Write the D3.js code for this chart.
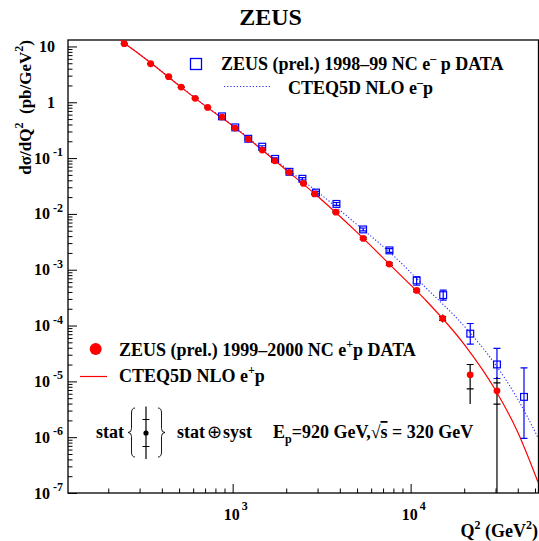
<!DOCTYPE html>
<html>
<head>
<meta charset="utf-8">
<script src="https://cdn.jsdelivr.net/npm/d3@7"></script>
<style>
  body { margin: 0; background: #fff; }
  text { font-family: "Liberation Serif", "Times New Roman", serif; font-weight: bold; fill: #000; }
</style>
</head>
<body>
<div id="chart"></div>
<script>
// ZEUS 1999-2000 e+p NC data (red points)
const epQ2 = [246, 346, 437, 514, 616, 724, 871, 1034, 1224, 1466, 1728, 2080, 2500, 2890, 3802, 5418, 7590, 10810, 15140, 21600, 30560];
const epXsec = [11.2, 4.90, 2.87, 1.87, 1.175, 0.810, 0.543, 0.345, 0.219, 0.139, 0.0895, 0.0555, 0.0352, 0.0228, 0.01076, 3.64e-3, 1.26e-3, 4.25e-4, 1.34e-4, 1.31e-5, 6.76e-6];
// relative errors
const epStatUp = [0.01, 0.01, 0.01, 0.01, 0.01, 0.01, 0.01, 0.012, 0.012, 0.015, 0.015, 0.02, 0.02, 0.025, 0.03, 0.04, 0.05, 0.05, 0.08, 0.53, 0.39];
const epStatDn = [0.01, 0.01, 0.01, 0.01, 0.01, 0.01, 0.01, 0.012, 0.012, 0.015, 0.015, 0.02, 0.02, 0.025, 0.03, 0.04, 0.05, 0.05, 0.08, 0.44, 0.42];
const epTotUp = [0.03, 0.03, 0.03, 0.03, 0.03, 0.03, 0.03, 0.03, 0.03, 0.035, 0.035, 0.04, 0.04, 0.04, 0.045, 0.05, 0.06, 0.08, 0.18, 0.55, 0.78];
const epTotDn = [0.03, 0.03, 0.03, 0.03, 0.03, 0.03, 0.03, 0.03, 0.03, 0.035, 0.035, 0.04, 0.04, 0.04, 0.045, 0.05, 0.06, 0.08, 0.15, 0.70, 1.0];

// ZEUS 1998-99 e-p NC data (blue squares)
const emQ2 = [871, 1034, 1224, 1466, 1733, 2085, 2466, 2940, 3830, 5408, 7605, 10810, 15240, 21630, 30560, 43350];
const emXsec = [0.559, 0.355, 0.222, 0.160, 0.0968, 0.0568, 0.0426, 0.0241, 0.0151, 5.27e-3, 2.22e-3, 6.43e-4, 3.51e-4, 7.16e-5, 2.01e-5, 5.27e-6];
const emErrUp = [0.03, 0.03, 0.03, 0.04, 0.04, 0.04, 0.05, 0.05, 0.06, 0.06, 0.08, 0.16, 0.23, 0.52, 0.94, 2.32];
const emErrDn = [0.03, 0.03, 0.03, 0.04, 0.04, 0.04, 0.05, 0.05, 0.06, 0.06, 0.08, 0.18, 0.19, 0.35, 0.44, 0.82];

// CTEQ5D NLO predictions
const theoryQ2 = [200, 250, 350, 500, 700, 1000, 1500, 2000, 3000, 5000, 8000, 12000, 20000, 30000, 40000, 52000];
const theoryEp = [19.0, 11.1, 4.94, 1.99, 0.862, 0.378, 0.131, 0.0612, 0.0207, 4.66e-3, 1.07e-3, 2.97e-4, 4.6e-5, 6.95e-6, 1.23e-6, 1.56e-7];
const theoryEm = [19.2, 11.2, 4.98, 2.017, 0.876, 0.384, 0.136, 0.0654, 0.0248, 6.43e-3, 1.79e-3, 4.98e-4, 9.75e-5, 1.99e-5, 4.80e-6, 9.75e-7];

const W = 539, H = 541;
const F = { left: 68, top: 40, right: 538.5, bottom: 493 };

const x = d3.scaleLog().domain([118.8, 52300]).range([F.left, F.right]);
const y = d3.scaleLog().domain([1e-7, 13.05]).range([F.bottom, F.top]);

const svg = d3.select("#chart").append("svg")
  .attr("xmlns", "http://www.w3.org/2000/svg")
  .attr("width", W)
  .attr("height", H);

svg.append("clipPath").attr("id", "frame")
  .append("rect")
  .attr("x", F.left).attr("y", F.top)
  .attr("width", F.right - F.left).attr("height", F.bottom - F.top);

// ticks
const yMajor = [], yMinor = [];
for (let e = -7; e <= 1; e++) {
  for (let k = 1; k <= 9; k++) {
    const v = k * Math.pow(10, e);
    if (v <= 13.05) (k === 1 ? yMajor : yMinor).push(v);
  }
}
const xMajor = [], xMinor = [];
for (let e = 2; e <= 4; e++) {
  for (let k = 1; k <= 9; k++) {
    const v = k * Math.pow(10, e);
    if (v >= 118.8 && v <= 52300) (k === 1 ? xMajor : xMinor).push(v);
  }
}

function tickAxis(axis, tr) {
  const g = svg.append("g").attr("transform", tr).call(axis);
  g.select(".domain").remove();
  g.selectAll("line").attr("stroke", "#000").attr("stroke-width", 1);
  return g;
}
tickAxis(d3.axisRight(y).tickValues(yMinor).tickSize(4.5).tickFormat(""), `translate(${F.left},0)`);
tickAxis(d3.axisRight(y).tickValues(yMajor).tickSize(9).tickFormat(""), `translate(${F.left},0)`);
tickAxis(d3.axisTop(x).tickValues(xMinor).tickSize(4.5).tickFormat(""), `translate(0,${F.bottom})`);
tickAxis(d3.axisTop(x).tickValues(xMajor).tickSize(9).tickFormat(""), `translate(0,${F.bottom})`);

svg.append("rect")
  .attr("x", F.left).attr("y", F.top)
  .attr("width", F.right - F.left).attr("height", F.bottom - F.top)
  .attr("fill", "none").attr("stroke", "#000").attr("stroke-width", 1.3);

// y tick labels
yMajor.forEach(v => {
  const e = Math.round(Math.log10(v));
  const ty = y(v);
  if (e >= 0) {
    svg.append("text").attr("x", 55).attr("y", ty + 5.5)
      .attr("text-anchor", "end").attr("font-size", 16)
      .text(e === 1 ? "10" : "1");
  } else {
    svg.append("text").attr("x", 50).attr("y", ty + 5.5)
      .attr("text-anchor", "end").attr("font-size", 16).text("10");
    svg.append("text").attr("x", 53).attr("y", ty - 2)
      .attr("font-size", 12).text("-" + (-e));
  }
});

// x tick labels
xMajor.forEach(v => {
  const e = Math.round(Math.log10(v));
  svg.append("text").attr("x", x(v) - 1).attr("y", 520)
    .attr("text-anchor", "middle").attr("font-size", 16).text("10");
  svg.append("text").attr("x", x(v) + 9).attr("y", 510)
    .attr("font-size", 12).text(e);
});

// titles
svg.append("text").attr("x", 270.5).attr("y", 25)
  .attr("text-anchor", "middle").attr("font-size", 24).text("ZEUS");

const xt = svg.append("text").attr("x", 538).attr("y", 537)
  .attr("text-anchor", "end").attr("font-size", 18);
xt.append("tspan").text("Q");
xt.append("tspan").attr("dy", -8).attr("font-size", 12).text("2");
xt.append("tspan").attr("dy", 8).text(" (GeV");
xt.append("tspan").attr("dy", -8).attr("font-size", 12).text("2");
xt.append("tspan").attr("dy", 8).text(")");

const yt = svg.append("text")
  .attr("transform", "translate(31,40) rotate(-90)")
  .attr("text-anchor", "end").attr("font-size", 17);
yt.append("tspan").text("dσ/dQ");
yt.append("tspan").attr("dy", -8).attr("font-size", 12).text("2");
yt.append("tspan").attr("dy", 8).text("\u00a0\u00a0(pb/GeV");
yt.append("tspan").attr("dy", -8).attr("font-size", 12).text("2");
yt.append("tspan").attr("dy", 8).text(")");

// plot content
const plot = svg.append("g").attr("clip-path", "url(#frame)");

const line = d3.line()
  .x(d => x(d[0]))
  .y(d => y(d[1]))
  .curve(d3.curveMonotoneX);

plot.append("path")
  .datum(d3.zip(theoryQ2, theoryEm))
  .attr("d", line)
  .attr("fill", "none").attr("stroke", "#2b2bff").attr("stroke-width", 1.1)
  .attr("stroke-dasharray", "1.2 2");

plot.append("path")
  .datum(d3.zip(theoryQ2, theoryEp))
  .attr("d", line)
  .attr("fill", "none").attr("stroke", "#ff0000").attr("stroke-width", 1.2);

// e-p points
const em = emQ2.map((q, i) => ({ q, v: emXsec[i], up: emXsec[i] * (1 + emErrUp[i]), dn: Math.max(emXsec[i] * (1 - emErrDn[i]), 1e-10) }));
const gEm = plot.append("g").attr("stroke", "#0000ff").attr("stroke-width", 1.2).attr("fill", "none");
gEm.selectAll(".eb").data(em).enter().append("path")
  .attr("d", d => {
    const cx = x(d.q);
    return `M${cx},${y(d.up)}V${y(d.dn)}M${cx - 3.5},${y(d.up)}h7M${cx - 3.5},${y(d.dn)}h7`;
  });
gEm.selectAll("rect").data(em).enter().append("rect")
  .attr("x", d => x(d.q) - 3.4).attr("y", d => y(d.v) - 3.4)
  .attr("width", 6.8).attr("height", 6.8);

// e+p points
const ep = epQ2.map((q, i) => ({
  q, v: epXsec[i],
  su: epXsec[i] * (1 + epStatUp[i]), sd: epXsec[i] * (1 - epStatDn[i]),
  tu: epXsec[i] * (1 + epTotUp[i]), td: Math.max(epXsec[i] * (1 - epTotDn[i]), 1e-10)
}));
const gEp = plot.append("g");
gEp.selectAll("path").data(ep).enter().append("path")
  .attr("stroke", "#000").attr("stroke-width", 1.2).attr("fill", "none")
  .attr("d", d => {
    const cx = x(d.q);
    return `M${cx},${y(d.tu)}V${y(d.td)}M${cx - 3.5},${y(d.su)}h7M${cx - 3.5},${y(d.sd)}h7`;
  });
gEp.selectAll("circle").data(ep).enter().append("circle")
  .attr("cx", d => x(d.q)).attr("cy", d => y(d.v)).attr("r", 3.4)
  .attr("fill", "#ff0000");

// legend top
svg.append("rect").attr("x", 190.5).attr("y", 58.5).attr("width", 11).attr("height", 11)
  .attr("fill", "none").attr("stroke", "#0000ff").attr("stroke-width", 1.3);
const l1 = svg.append("text").attr("x", 221).attr("y", 69.5).attr("font-size", 18);
l1.append("tspan").text("ZEUS (prel.) 1998\u201399 NC e");
l1.append("tspan").attr("dy", -8).attr("font-size", 12).text("\u2013");
l1.append("tspan").attr("dy", 8).text(" p DATA");
svg.append("line").attr("x1", 224).attr("x2", 271).attr("y1", 86.5).attr("y2", 86.5)
  .attr("stroke", "#2b2bff").attr("stroke-width", 1.1).attr("stroke-dasharray", "1.2 2");
const l2 = svg.append("text").attr("x", 288).attr("y", 94).attr("font-size", 18);
l2.append("tspan").text("CTEQ5D NLO e");
l2.append("tspan").attr("dy", -8).attr("font-size", 12).text("\u2013");
l2.append("tspan").attr("dy", 8).text("p");

// legend bottom
svg.append("circle").attr("cx", 95.7).attr("cy", 349).attr("r", 6).attr("fill", "#ff0000");
const l3 = svg.append("text").attr("x", 119).attr("y", 356).attr("font-size", 18);
l3.append("tspan").text("ZEUS (prel.) 1999\u20132000 NC e");
l3.append("tspan").attr("dy", -8).attr("font-size", 12).text("+");
l3.append("tspan").attr("dy", 8).text("p DATA");
svg.append("line").attr("x1", 80).attr("x2", 107).attr("y1", 376.5).attr("y2", 376.5)
  .attr("stroke", "#ff0000").attr("stroke-width", 1.2);
const l4 = svg.append("text").attr("x", 119).attr("y", 382).attr("font-size", 18);
l4.append("tspan").text("CTEQ5D NLO e");
l4.append("tspan").attr("dy", -8).attr("font-size", 12).text("+");
l4.append("tspan").attr("dy", 8).text("p");

// stat / syst key
svg.append("text").attr("x", 96).attr("y", 438).attr("font-size", 18).text("stat");
const brace = (x0, dir) => {
  const t = 408, b = 457, m = 432.5, w = 3.5 * dir;
  return `M${x0 + w},${t} Q${x0},${t} ${x0},${t + 5} V${m - 4} Q${x0},${m} ${x0 - w},${m} Q${x0},${m} ${x0},${m + 4} V${b - 5} Q${x0},${b} ${x0 + w},${b}`;
};
svg.append("path").attr("d", brace(131.5, 1)).attr("fill", "none").attr("stroke", "#000").attr("stroke-width", 0.9);
svg.append("path").attr("d", brace(161.5, -1)).attr("fill", "none").attr("stroke", "#000").attr("stroke-width", 0.9);
svg.append("path").attr("d", "M146,406.5V459M142.5,419.5h7M142.5,446.5h7")
  .attr("stroke", "#000").attr("stroke-width", 1.2).attr("fill", "none");
svg.append("circle").attr("cx", 146).attr("cy", 433).attr("r", 2.6).attr("fill", "#000");
const ss = svg.append("text").attr("x", 177).attr("y", 438).attr("font-size", 18);
ss.append("tspan").text("stat");
ss.append("tspan").attr("dx", 2).attr("font-size", 18).attr("font-weight", "normal").text("\u2295");
ss.append("tspan").attr("dx", 1).text("syst");

const en = svg.append("text").attr("x", 273).attr("y", 438).attr("font-size", 18);
en.append("tspan").text("E");
en.append("tspan").attr("dy", 5).attr("font-size", 12).text("p");
en.append("tspan").attr("dy", -5).text("=920 GeV,\u221a");
en.append("tspan").style("text-decoration", "overline").text("s");
en.append("tspan").text(" = 320 GeV");
</script>
</body>
</html>
